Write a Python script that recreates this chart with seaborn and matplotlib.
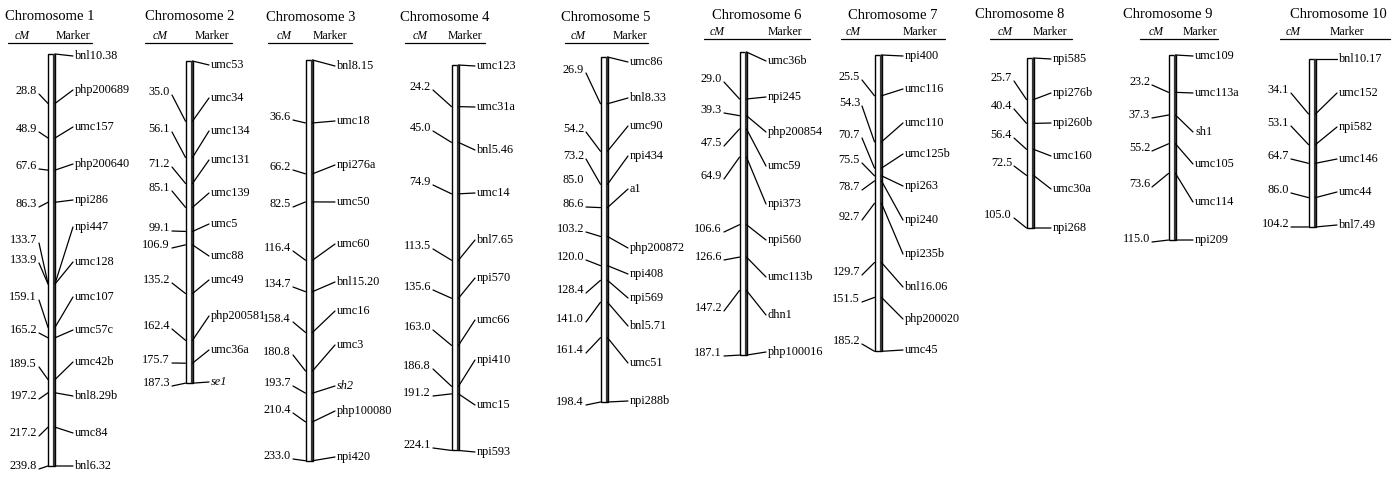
import matplotlib
matplotlib.use("Agg")
import matplotlib.pyplot as plt
import seaborn as sns
import pandas as pd

# ---------------- data ----------------
chr1_markers = ["bnl10.38", "php200689", "umc157", "php200640", "npi286", "npi447", "umc128",
                "umc107", "umc57c", "umc42b", "bnl8.29b", "umc84", "bnl6.32"]
chr1_cm = [0, 28.8, 48.9, 67.6, 86.3, 133.7, 133.9, 159.1, 165.2, 189.5, 197.2, 217.2, 239.8]

chr2_markers = ["umc53", "umc34", "umc134", "umc131", "umc139", "umc5", "umc88", "umc49",
                "php200581", "umc36a", "se1"]
chr2_cm = [0, 35.0, 56.1, 71.2, 85.1, 99.1, 106.9, 135.2, 162.4, 175.7, 187.3]

chr3_markers = ["bnl8.15", "umc18", "npi276a", "umc50", "umc60", "bnl15.20", "umc16", "umc3",
                "sh2", "php100080", "npi420"]
chr3_cm = [0, 36.6, 66.2, 82.5, 116.4, 134.7, 158.4, 180.8, 193.7, 210.4, 233.0]

chr4_markers = ["umc123", "umc31a", "bnl5.46", "umc14", "bnl7.65", "npi570", "umc66", "npi410",
                "umc15", "npi593"]
chr4_cm = [0, 24.2, 45.0, 74.9, 113.5, 135.6, 163.0, 186.8, 191.2, 224.1]

chr5_markers = ["umc86", "bnl8.33", "umc90", "npi434", "", "a1", "php200872", "npi408", "npi569",
                "bnl5.71", "umc51", "npi288b"]
chr5_cm = [0, 26.9, 54.2, 73.2, 85.0, 86.6, 103.2, 120.0, 128.4, 141.0, 161.4, 198.4]

chr6_markers = ["umc36b", "npi245", "php200854", "umc59", "npi373", "npi560", "umc113b", "dhn1",
                "php100016"]
chr6_cm = [0, 29.0, 39.3, 47.5, 64.9, 106.6, 126.6, 147.2, 187.1]

chr7_markers = ["npi400", "umc116", "umc110", "umc125b", "npi263", "npi240", "npi235b", "bnl16.06",
                "php200020", "umc45"]
chr7_cm = [0, 25.5, 54.3, 70.7, 75.5, 78.7, 92.7, 129.7, 151.5, 185.2]

chr8_markers = ["npi585", "npi276b", "npi260b", "umc160", "umc30a", "npi268"]
chr8_cm = [0, 25.7, 40.4, 56.4, 72.5, 105.0]

chr9_markers = ["umc109", "umc113a", "sh1", "umc105", "umc114", "npi209"]
chr9_cm = [0, 23.2, 37.3, 55.2, 73.6, 115.0]

chr10_markers = ["bnl10.17", "umc152", "npi582", "umc146", "umc44", "bnl7.49"]
chr10_cm = [0, 34.1, 53.1, 64.7, 86.0, 104.2]

chrom_titles = ["Chromosome %d" % i for i in range(1, 11)]
italic_markers = ["se1", "sh2"]

# ---------------- layout (pixels) ----------------
W, H = 1393, 478
layouts = [
    dict(title_x=50, bar_x=51.5, top=54, scale=1.718, left_x=37, right_x=75, cm_x=22, mk_x=73, ul=(8, 92), grp=0,
         ly=[None, 91, 129, 166, 204, 240, 260, 297, 330, 364, 396, 433, 466],
         ry=[56, 90, 127, 164, 200, 227, 262, 297, 330, 362, 396, 433, 466]),
    dict(title_x=190, bar_x=189, top=61, scale=1.72, left_x=170, right_x=211, cm_x=160, mk_x=212, ul=(145, 232), grp=0,
         ly=[None, 92, 129, 164, 188, 228, 245, 280, 326, 360, 383],
         ry=[65, 98, 131, 160, 193, 224, 256, 280, 316, 350, 382]),
    dict(title_x=311, bar_x=309, top=60, scale=1.72, left_x=291, right_x=337, cm_x=284, mk_x=330, ul=(268, 352), grp=0,
         ly=[None, 117, 167, 204, 248, 284, 319, 352, 383, 410, 456],
         ry=[66, 121, 165, 202, 244, 282, 311, 345, 386, 411, 457]),
    dict(title_x=445, bar_x=455, top=65, scale=1.72, left_x=431, right_x=477, cm_x=420, mk_x=465, ul=(405, 485), grp=0,
         ly=[None, 87, 128, 182, 246, 287, 327, 366, 393, 445],
         ry=[66, 107, 150, 193, 240, 278, 320, 360, 405, 452]),
    dict(title_x=606, bar_x=604, top=57, scale=1.739, left_x=584, right_x=630, cm_x=578, mk_x=630, ul=(565, 648), grp=0,
         ly=[None, 70, 129, 156, 180, 204, 229, 257, 290, 319, 350, 402],
         ry=[62, 98, 126, 156, None, 189, 248, 274, 298, 326, 363, 401]),
    dict(title_x=757, bar_x=743, top=52, scale=1.62, left_x=722, right_x=768, cm_x=717, mk_x=785, ul=(704, 810), grp=1,
         ly=[None, 79, 110, 143, 176, 229, 257, 308, 353],
         ry=[61, 97, 132, 166, 204, 240, 277, 315, 352]),
    dict(title_x=893, bar_x=878, top=55, scale=1.60, left_x=860, right_x=905, cm_x=853, mk_x=920, ul=(841, 945), grp=1,
         ly=[None, 77, 103, 135, 160, 187, 217, 272, 299, 341],
         ry=[56, 89, 123, 154, 186, 220, 254, 287, 319, 350]),
    dict(title_x=1020, bar_x=1030, top=58, scale=1.619, left_x=1012, right_x=1053, cm_x=1005, mk_x=1050, ul=(990, 1072), grp=1,
         ly=[None, 78, 106, 135, 163, 215],
         ry=[59, 93, 123, 156, 189, 228]),
    dict(title_x=1168, bar_x=1172, top=55, scale=1.609, left_x=1150, right_x=1195, cm_x=1156, mk_x=1200, ul=(1140, 1218), grp=1,
         ly=[None, 82, 115, 148, 184, 239],
         ry=[56, 93, 132, 164, 202, 240]),
    dict(title_x=1338, bar_x=1312, top=59, scale=1.612, left_x=1289, right_x=1339, cm_x=1293, mk_x=1347, ul=(1280, 1390), grp=1,
         ly=[None, 90, 123, 156, 190, 224],
         ry=[59, 93, 127, 159, 192, 225]),
]
unlinked_left = {(4, 4)}          # (chromosome index, marker index) labels drawn without a connector
header_y = [(17, 36, 43), (15, 32, 39)]   # title, cM/Marker, underline
BAR_W = 7

all_markers = [chr1_markers, chr2_markers, chr3_markers, chr4_markers, chr5_markers,
               chr6_markers, chr7_markers, chr8_markers, chr9_markers, chr10_markers]
all_cm = [chr1_cm, chr2_cm, chr3_cm, chr4_cm, chr5_cm, chr6_cm, chr7_cm, chr8_cm, chr9_cm, chr10_cm]

sns.set_theme(style="white")
plt.rcParams["font.family"] = ["Liberation Serif", "DejaVu Serif"]

fig = plt.figure(figsize=(W / 100, H / 100), dpi=100)
LW = 0.9
FS = 8.8

for ci, (title, markers, cms, lay) in enumerate(zip(chrom_titles, all_markers, all_cm, layouts)):
    ax = fig.add_axes([0, 0, 1, 1])
    ax.patch.set_alpha(0)
    top, s = lay["top"], lay["scale"]

    def py(y, top=top, s=s):
        return (y - top) / s

    df = pd.DataFrame({"pos": [lay["bar_x"]], "length": [max(cms)]})
    sns.barplot(data=df, x="pos", y="length", native_scale=True, width=BAR_W,
                color="white", edgecolor="black", linewidth=1.0, saturation=1,
                errorbar=None, ax=ax)
    ax.set_xlim(0, W)
    ax.set_ylim(py(H), py(0))
    ax.set_axis_off()

    bl = lay["bar_x"] - BAR_W / 2
    br = lay["bar_x"] + BAR_W / 2
    # thicker right rail of the chromosome
    ax.plot([br - 0.8, br - 0.8], [0, max(cms)], color="#333333", lw=1.6, solid_capstyle="butt")

    ty, hy, uy = header_y[lay["grp"]]
    ax.text(lay["title_x"], py(ty), title, ha="center", va="center", fontsize=10.5, color="black")
    ax.text(lay["cm_x"], py(hy), "cM", ha="center", va="center", fontsize=8.5,
            style="italic", color="black")
    ax.text(lay["mk_x"], py(hy), "Marker", ha="center", va="center", fontsize=8.5, color="black")
    ax.plot(lay["ul"], [py(uy), py(uy)], color="black", lw=0.9)

    for mi, (name, cm, ly, ry) in enumerate(zip(markers, cms, lay["ly"], lay["ry"])):
        if ly is not None:
            ax.text(lay["left_x"], py(ly), "%.1f" % cm, ha="right", va="center",
                    fontsize=FS, color="black")
            if (ci, mi) not in unlinked_left:
                ax.plot([lay["left_x"] + 2, bl], [py(ly + 3), cm], color="black", lw=LW)
        if ry is not None and name:
            ax.text(lay["right_x"], py(ry), name, ha="left", va="center", fontsize=FS,
                    color="black", style="italic" if name in italic_markers else "normal")
            ax.plot([br, lay["right_x"] - 2], [cm, py(ry)], color="black", lw=LW)

fig.savefig("out.png", dpi=100, facecolor="white")
